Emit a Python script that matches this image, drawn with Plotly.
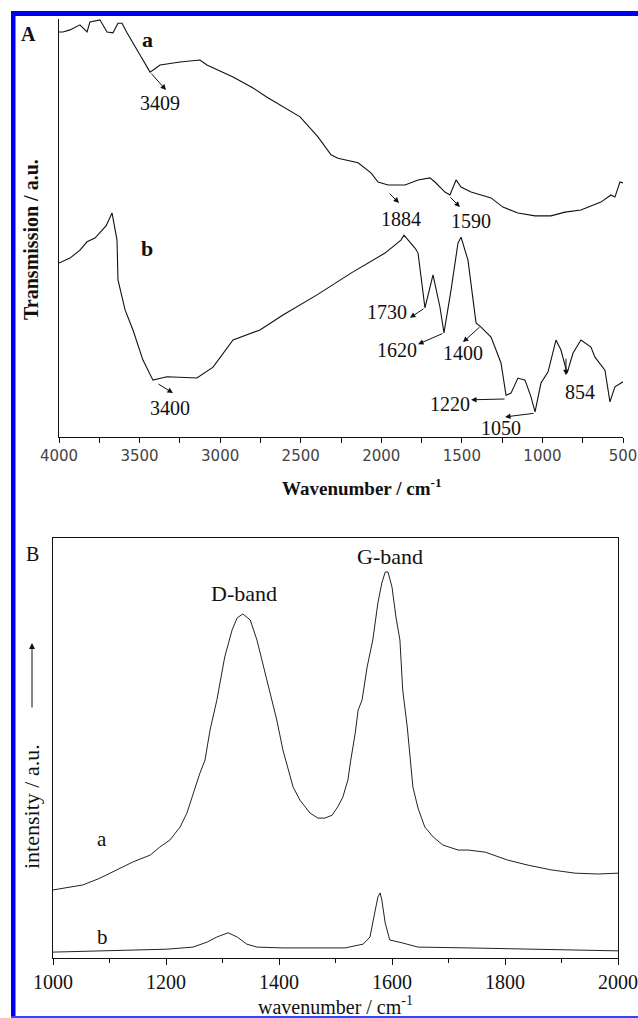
import plotly.graph_objects as go

# ---------------- data ----------------
# Panel A: FTIR, transmission (a.u., 0 = bottom axis, 100 = top of frame)
ftir_a_wn = [4000, 3975, 3932, 3870, 3826, 3808, 3746, 3702, 3665, 3634, 3609, 3578,
             3497, 3435, 3373, 3249, 3125, 3082, 2920, 2796, 2709, 2504, 2393, 2312,
             2269, 2144, 2064, 2020, 1958, 1853, 1772, 1698, 1667, 1605, 1574, 1536,
             1505, 1443, 1381, 1319, 1245, 1152, 1046, 947, 860, 761, 637, 575, 550,
             519, 500]
ftir_a_t = [96.9, 96.9, 97.4, 98.6, 96.9, 99.3, 99.8, 96.9, 96.7, 99.0, 99.0, 96.7,
            91.4, 87.3, 89.0, 89.7, 90.2, 89.0, 86.1, 83.5, 81.3, 76.6, 71.8, 67.5,
            66.7, 65.6, 63.2, 61.0, 60.3, 60.3, 61.5, 62.0, 61.0, 58.6, 57.9, 61.5,
            59.8, 58.6, 57.9, 57.2, 55.0, 53.6, 52.9, 52.9, 53.8, 54.3, 56.2, 57.9, 57.4,
            61.0, 60.8]

ftir_b_wn = [4000, 3932, 3870, 3826, 3777, 3746, 3708, 3671, 3652, 3640, 3634, 3590,
             3541, 3479, 3417, 3330, 3144, 3044, 2920, 2753, 2610, 2399, 2188, 1977,
             1878, 1859, 1791, 1772, 1729, 1679, 1636, 1611, 1567, 1524, 1505, 1462,
             1412, 1381, 1319, 1257, 1226, 1195, 1152, 1108, 1071, 1046, 1009, 965,
             916, 885, 847, 810, 761, 699, 674, 612, 581, 550, 500]
ftir_b_t = [41.6, 42.8, 44.7, 46.7, 47.6, 48.8, 50.5, 53.6, 50.0, 47.1, 37.6, 30.4,
            25.6, 18.4, 13.6, 14.4, 14.1, 16.7, 23.2, 25.6, 29.2, 34.0, 39.2, 44.0,
            47.1, 48.3, 45.2, 44.0, 30.9, 38.8, 31.1, 24.9, 35.2, 46.4, 47.8, 42.3,
            27.3, 26.3, 23.9, 17.7, 10.0, 10.5, 14.1, 13.6, 9.6, 6.0, 12.9, 15.6,
            23.2, 20.8, 15.3, 20.1, 23.2, 21.5, 19.1, 16.0, 8.4, 12.0, 13.2]

# Panel B: Raman intensity (a.u., 0 = bottom axis, 100 = top of frame)
raman_a_wn = [1000, 1025, 1053, 1083, 1113, 1142, 1172, 1189, 1207, 1225, 1237, 1248,
              1260, 1269, 1278, 1290, 1304, 1317, 1326, 1336, 1349, 1361, 1375, 1384,
              1396, 1407, 1414, 1425, 1437, 1455, 1469, 1481, 1494, 1504, 1513, 1522,
              1527, 1535, 1540, 1547, 1556, 1566, 1575, 1582, 1588, 1593, 1600, 1607,
              1614, 1619, 1627, 1632, 1637, 1646, 1658, 1673, 1690, 1717, 1735, 1765,
              1779, 1805, 1841, 1881, 1924, 1965, 2000]
raman_a_i = [16.2, 16.7, 17.4, 19.0, 21.0, 22.9, 24.5, 26.4, 28.1, 31.2, 34.5, 39.3,
             44.0, 47.1, 54.3, 61.4, 71.7, 78.1, 81.0, 81.9, 80.5, 75.7, 67.9, 63.1,
             56.7, 49.5, 46.0, 40.7, 37.6, 34.5, 33.3, 33.3, 34.0, 36.0, 38.3, 42.4,
             47.1, 53.6, 59.0, 61.4, 69.3, 75.7, 84.5, 89.3, 91.9, 91.9, 88.3, 81.2,
             75.7, 63.8, 55.0, 47.1, 40.7, 35.7, 31.2, 28.8, 26.9, 25.7, 25.7, 25.2,
             24.5, 23.3, 22.1, 21.0, 20.2, 20.0, 20.2]

raman_b_wn = [1000, 1083, 1142, 1202, 1248, 1273, 1290, 1310, 1326, 1343, 1361, 1407,
              1469, 1517, 1549, 1561, 1568, 1575, 1579, 1582, 1588, 1596, 1618, 1646,
              1735, 1853, 1942, 2000]
raman_b_i = [1.4, 1.7, 1.9, 2.1, 2.6, 3.8, 5.0, 6.0, 5.0, 3.3, 2.6, 2.4,
             2.4, 2.4, 3.3, 5.0, 9.8, 14.5, 15.5, 13.8, 8.3, 4.3, 3.6, 2.6,
             2.4, 2.1, 1.9, 1.7]

# Peak labels of panel A: (text, tail wn, tail T, head wn, head T, label wn, label T)
ftir_marks = [
    ("3409", 3435, 87.3, 3336, 83.0, 3373, 79.9),
    ("1884", 1958, 58.6, 1890, 56.0, 1880, 52.2),
    ("1590", 1580, 57.7, 1512, 55.0, 1443, 51.7),
    ("3400", 3392, 12.9, 3293, 10.5, 3311, 6.9),
    ("1730", 1729, 30.9, 1822, 28.5, 1962, 29.8),
    ("1620", 1611, 24.9, 1772, 22.2, 1902, 20.8),
    ("1400", 1381, 26.6, 1493, 22.7, 1493, 20.1),
    ("1220", 1226, 9.1, 1443, 8.9, 1574, 7.9),
    ("1050", 1046, 5.7, 1232, 4.8, 1257, 2.2),
    ("854", 854, 19.1, 854, 14.8, 767, 10.8),
]

# ---------------- layout helpers (pixel geometry) ----------------
W, H = 638, 1018
def px(x):
    return x / W
def py(y):
    return 1 - y / H

SERIF = "Liberation Serif, Times New Roman, serif"
SANS = "DejaVu Sans, Verdana, sans-serif"
INK = "#111111"

fig = go.Figure()

fig.add_trace(go.Scatter(x=ftir_a_wn, y=ftir_a_t, mode="lines",
                         line=dict(color=INK, width=1.1), xaxis="x", yaxis="y",
                         showlegend=False, hoverinfo="skip"))
fig.add_trace(go.Scatter(x=ftir_b_wn, y=ftir_b_t, mode="lines",
                         line=dict(color=INK, width=1.1), xaxis="x", yaxis="y",
                         showlegend=False, hoverinfo="skip"))
fig.add_trace(go.Scatter(x=raman_a_wn, y=raman_a_i, mode="lines",
                         line=dict(color="#222222", width=1), xaxis="x2", yaxis="y2",
                         showlegend=False, hoverinfo="skip"))
fig.add_trace(go.Scatter(x=raman_b_wn, y=raman_b_i, mode="lines",
                         line=dict(color="#222222", width=1), xaxis="x2", yaxis="y2",
                         showlegend=False, hoverinfo="skip"))

annotations = []
for txt, tx, ty, hx, hy, lx, ly in ftir_marks:
    annotations.append(dict(x=hx, y=hy, ax=tx, ay=ty, xref="x", yref="y", axref="x",
                            ayref="y", text="", showarrow=True, arrowhead=2,
                            arrowsize=1.1, arrowwidth=1, arrowcolor=INK,
                            standoff=0, startstandoff=0))
    annotations.append(dict(x=lx, y=ly, xref="x", yref="y", text=txt, showarrow=False,
                            font=dict(family=SERIF, size=20, color=INK),
                            xanchor="center", yanchor="middle"))

def paper_text(x, y, text, size, angle=0):
    return dict(x=px(x), y=py(y), xref="paper", yref="paper", text=text,
                textangle=angle, showarrow=False, xanchor="center", yanchor="middle",
                font=dict(family=SERIF, size=size, color=INK))

# curve letters panel A
annotations.append(dict(x=3448, y=95.2, xref="x", yref="y", text="<b>a</b>",
                        showarrow=False, font=dict(family=SERIF, size=22, color=INK)))
annotations.append(dict(x=3454, y=45.0, xref="x", yref="y", text="<b>b</b>",
                        showarrow=False, font=dict(family=SERIF, size=22, color=INK)))
# panel B labels
annotations.append(dict(x=1087, y=28.3, xref="x2", yref="y2", text="a",
                        showarrow=False, font=dict(family=SERIF, size=21, color=INK)))
annotations.append(dict(x=1088, y=5.0, xref="x2", yref="y2", text="b",
                        showarrow=False, font=dict(family=SERIF, size=21, color=INK)))
annotations.append(dict(x=1338, y=86.7, xref="x2", yref="y2", text="D-band",
                        showarrow=False, font=dict(family=SERIF, size=22, color=INK)))
annotations.append(dict(x=1596, y=95.5, xref="x2", yref="y2", text="G-band",
                        showarrow=False, font=dict(family=SERIF, size=22, color=INK)))
# panel letters
annotations.append(paper_text(28, 34, "<b>A</b>", 20))
annotations.append(paper_text(32, 554, "B", 20))
# panel A axis titles (placed as in the reference, slightly off-centre)
annotations.append(paper_text(31, 240, "<b>Transmission / a.u.</b>", 20, -90))
annotations.append(paper_text(362, 487, "<b>Wavenumber / cm<sup>-1</sup></b>", 19))
# panel B y title (off-centre, with arrow)
annotations.append(paper_text(31, 807, "intensity / a.u.", 22, -90))
annotations.append(dict(x=px(32), y=py(643), ax=0, ay=66, xref="paper",
                        yref="paper", axref="pixel", ayref="pixel", text="",
                        showarrow=True, arrowhead=2, arrowsize=1.2, arrowwidth=1,
                        arrowcolor=INK, standoff=0, startstandoff=0))

shapes = [
    dict(type="rect", xref="paper", yref="paper", x0=px(11), x1=px(15.5),
         y0=py(1018), y1=py(11), fillcolor="#0000f0", line=dict(width=0)),
    dict(type="rect", xref="paper", yref="paper", x0=px(11), x1=px(638),
         y0=py(16), y1=py(11), fillcolor="#0000f0", line=dict(width=0)),
    dict(type="rect", xref="paper", yref="paper", x0=px(11), x1=px(638),
         y0=py(1018), y1=py(1016), fillcolor="#3344ff", line=dict(width=0)),
]

fig.update_layout(
    width=W, height=H,
    margin=dict(l=0, r=0, t=0, b=0, autoexpand=False),
    paper_bgcolor="white", plot_bgcolor="white",
    showlegend=False,
    annotations=annotations,
    shapes=shapes,
    xaxis=dict(domain=[px(59), px(623)], anchor="y", range=[4000, 500],
               automargin=False,
               showline=True, linecolor=INK, linewidth=1, showgrid=False,
               zeroline=False, ticks="outside", ticklen=5, tickcolor=INK,
               tick0=500, dtick=500,
               minor=dict(ticks="outside", ticklen=5, dtick=250, tick0=500,
                          tickcolor=INK, showgrid=False),
               tickfont=dict(family=SANS, size=15, color="#444444")),
    yaxis=dict(domain=[py(437), py(19)], anchor="x", range=[0, 100],
               automargin=False,
               showline=True, linecolor=INK, linewidth=1, showgrid=False,
               zeroline=False, ticks="", showticklabels=False),
    xaxis2=dict(domain=[px(53), px(618)], anchor="y2", range=[1000, 2000],
                automargin=False,
                showline=True, mirror=True, linecolor=INK, linewidth=1,
                showgrid=False, zeroline=False, ticks="outside", ticklen=6,
                tickcolor=INK, tick0=1000, dtick=200,
                minor=dict(ticks="outside", ticklen=4, dtick=100, tick0=1000,
                           tickcolor=INK, showgrid=False),
                tickfont=dict(family=SERIF, size=20, color=INK),
                title=dict(text="wavenumber / cm<sup>-1</sup>", standoff=7,
                           font=dict(family=SERIF, size=20, color=INK))),
    yaxis2=dict(domain=[py(958), py(538)], anchor="x2", range=[0, 100],
                automargin=False,
                showline=True, mirror=True, linecolor=INK, linewidth=1,
                showgrid=False, zeroline=False, ticks="", showticklabels=False),
)

fig.write_html("out.html", config={"displayModeBar": False})
